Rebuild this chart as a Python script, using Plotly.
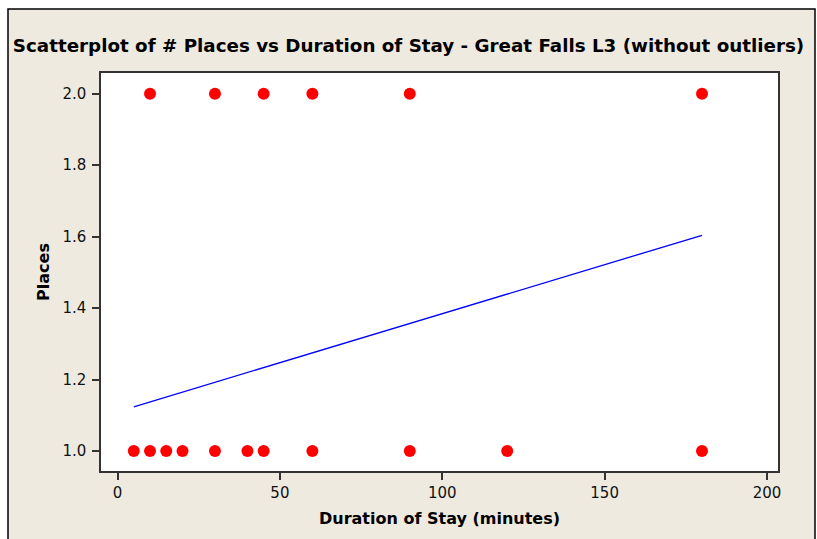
import plotly.graph_objects as go

# Duration of stay (minutes) and number of places visited
duration = [10, 30, 45, 60, 90, 180,
            5, 10, 15, 20, 30, 40, 45, 60, 90, 120, 180]
places = [2, 2, 2, 2, 2, 2,
          1, 1, 1, 1, 1, 1, 1, 1, 1, 1, 1]

# Fitted regression line: Places = intercept + slope * Duration
fit_intercept = 1.110
fit_slope = 0.002743
fit_x = [min(duration), max(duration)]
fit_y = [fit_intercept + fit_slope * x for x in fit_x]

x_ticks = [0, 50, 100, 150, 200]
y_ticks = [1.0, 1.2, 1.4, 1.6, 1.8, 2.0]

W, H = 817, 539
L, R, T, B = 101, 39, 73, 68
pw, ph = W - L - R, H - T - B

def px_x(p):
    return (p - L) / pw

def px_y(p):
    return (H - B - p) / ph

fig = go.Figure()
fig.add_trace(go.Scatter(x=fit_x, y=fit_y, mode="lines",
                         line=dict(color="#0000FF", width=1.3),
                         hoverinfo="skip", showlegend=False))
fig.add_trace(go.Scatter(x=duration, y=places, mode="markers",
                         marker=dict(color="#FF0000", size=12, line=dict(width=0)),
                         showlegend=False))

fig.add_shape(type="rect", xref="paper", yref="paper",
              x0=px_x(8), x1=px_x(815), y0=px_y(560), y1=px_y(9),
              fillcolor="#EEEAE0", line=dict(color="black", width=1.5), layer="below")
fig.add_shape(type="rect", xref="paper", yref="paper",
              x0=0, x1=1, y0=0, y1=1,
              fillcolor="white", line=dict(width=0), layer="below")

font_fam = "DejaVu Sans, Verdana, sans-serif"
fig.update_layout(
    width=W, height=H,
    margin=dict(l=L, r=R, t=T, b=B),
    paper_bgcolor="white", plot_bgcolor="white",
    title=dict(text="<b>Scatterplot of # Places vs Duration of Stay - Great Falls L3 (without outliers)</b>",
               x=0.5, xref="container", xanchor="center", y=1 - 46 / H, yanchor="middle",
               font=dict(family=font_fam, size=18.3, color="black")),
    xaxis=dict(range=[-5.1, 203.4], tickvals=x_ticks, ticktext=[str(v) for v in x_ticks],
               showgrid=False, zeroline=False, ticks="outside", ticklen=7, tickwidth=1.5,
               tickcolor="#333", showline=True, linecolor="#333", linewidth=1.5, mirror=True,
               tickfont=dict(family=font_fam, size=15, color="#111"),
               title=dict(text="<b>Duration of Stay (minutes)</b>", standoff=12,
                          font=dict(family=font_fam, size=16, color="black"))),
    yaxis=dict(range=[0.944, 2.058], tickvals=y_ticks, ticktext=[f"{v:.1f}" for v in y_ticks],
               showgrid=False, zeroline=False, ticks="outside", ticklen=7, tickwidth=1.5,
               tickcolor="#333", showline=True, linecolor="#333", linewidth=1.5, mirror=True,
               ticklabelstandoff=3,
               tickfont=dict(family=font_fam, size=15, color="#111"),
               title=dict(text="<b>Places</b>", standoff=9,
                          font=dict(family=font_fam, size=16, color="black"))),
)

fig.write_html("out.html")
